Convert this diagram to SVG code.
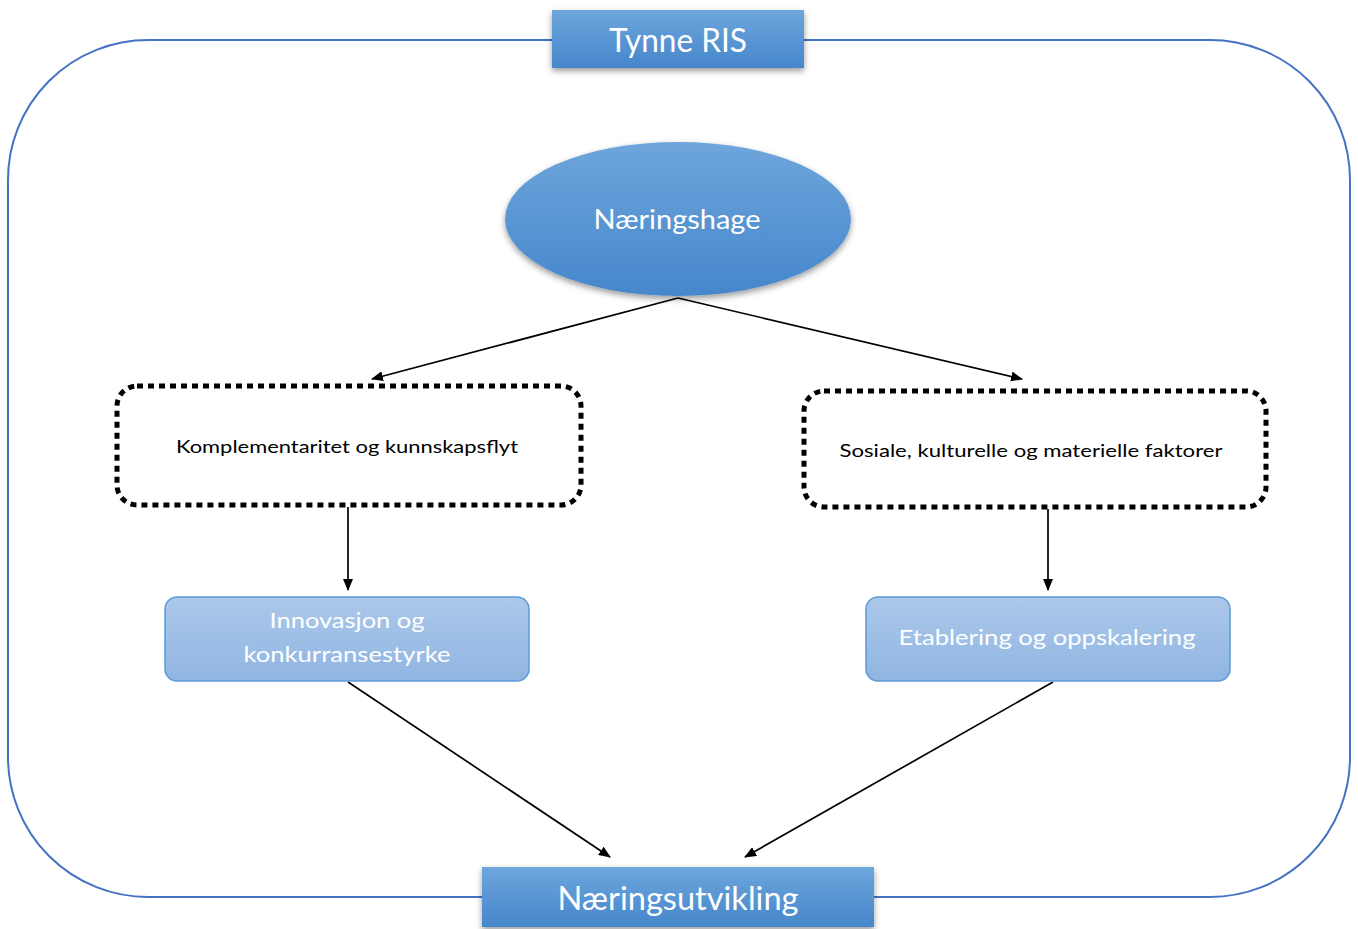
<svg xmlns="http://www.w3.org/2000/svg" width="1358" height="929" viewBox="0 0 1358 929">
<style>
.t{font-family:Lato,"Open Sans",sans-serif;fill:#fff;text-anchor:middle}
.d{font-family:Lato,"Open Sans",sans-serif;fill:#000;text-anchor:middle}
.dash{fill:#fff;stroke:#000;stroke-width:5;stroke-dasharray:6 5}
.soft{fill:url(#gl);stroke:#5b9bd5;stroke-width:1.5}
.solid{fill:url(#gd)}
.c{stroke:#000;stroke-width:1.7;fill:none;marker-end:url(#ah)}
</style>
<defs>
<linearGradient id="gd" x1="0" y1="0" x2="0" y2="1"><stop offset="0" stop-color="#6ea6dc"/><stop offset="1" stop-color="#4686cb"/></linearGradient>
<linearGradient id="gl" x1="0" y1="0" x2="0" y2="1"><stop offset="0" stop-color="#acc8ea"/><stop offset="1" stop-color="#90b5e2"/></linearGradient>
<filter id="sh" x="-10%" y="-20%" width="120%" height="150%"><feDropShadow dx="0" dy="3" stdDeviation="3" flood-color="#000" flood-opacity="0.4"/></filter>
<marker id="ah" markerWidth="12" markerHeight="10" refX="11" refY="5" orient="auto" markerUnits="userSpaceOnUse"><path d="M0,0 L12,5 L0,10 Z" fill="#000"/></marker>
</defs>
<rect x="8" y="40" width="1342" height="857" rx="140" ry="140" fill="none" stroke="#4472c4" stroke-width="2"/>
<g id="connectors">
<line class="c" x1="678" y1="298" x2="372" y2="379"/>
<line class="c" x1="678" y1="298" x2="1022" y2="379"/>
<line class="c" x1="348" y1="507" x2="348" y2="590"/>
<line class="c" x1="1048" y1="509" x2="1048" y2="590"/>
<line class="c" x1="348" y1="682" x2="610" y2="857"/>
<line class="c" x1="1053" y1="682" x2="745" y2="857"/>
</g>
<g id="tynne-ris">
<rect class="solid" x="552" y="10" width="252" height="58" filter="url(#sh)"/>
<text class="t" x="678" y="52" font-size="33" textLength="138" lengthAdjust="spacingAndGlyphs">Tynne RIS</text>
</g>
<g id="naeringshage">
<ellipse class="solid" cx="678" cy="219" rx="173" ry="77" filter="url(#sh)"/>
<text class="t" x="677" y="229" font-size="26" textLength="167" lengthAdjust="spacingAndGlyphs">Næringshage</text>
</g>
<g id="komplementaritet">
<rect class="dash" x="117" y="386" width="464" height="119" rx="20"/>
<text class="d" x="347" y="453" font-size="17" textLength="342" lengthAdjust="spacingAndGlyphs">Komplementaritet og kunnskapsflyt</text>
</g>
<g id="sosiale">
<rect class="dash" x="804" y="391" width="462" height="116" rx="20"/>
<text class="d" x="1031" y="457" font-size="18" textLength="383" lengthAdjust="spacingAndGlyphs">Sosiale, kulturelle og materielle faktorer</text>
</g>
<g id="innovasjon">
<rect class="soft" x="165" y="597" width="364" height="84" rx="12"/>
<text class="t" x="347" y="628" font-size="21" textLength="155" lengthAdjust="spacingAndGlyphs">Innovasjon og</text>
<text class="t" x="347" y="662" font-size="21" textLength="207" lengthAdjust="spacingAndGlyphs">konkurransestyrke</text>
</g>
<g id="etablering">
<rect class="soft" x="866" y="597" width="364" height="84" rx="12"/>
<text class="t" x="1047" y="645" font-size="22" textLength="297" lengthAdjust="spacingAndGlyphs">Etablering og oppskalering</text>
</g>
<g id="naeringsutvikling">
<rect class="solid" x="482" y="867" width="392" height="60" filter="url(#sh)"/>
<text class="t" x="678" y="910" font-size="32" textLength="241" lengthAdjust="spacingAndGlyphs">Næringsutvikling</text>
</g>
</svg>
